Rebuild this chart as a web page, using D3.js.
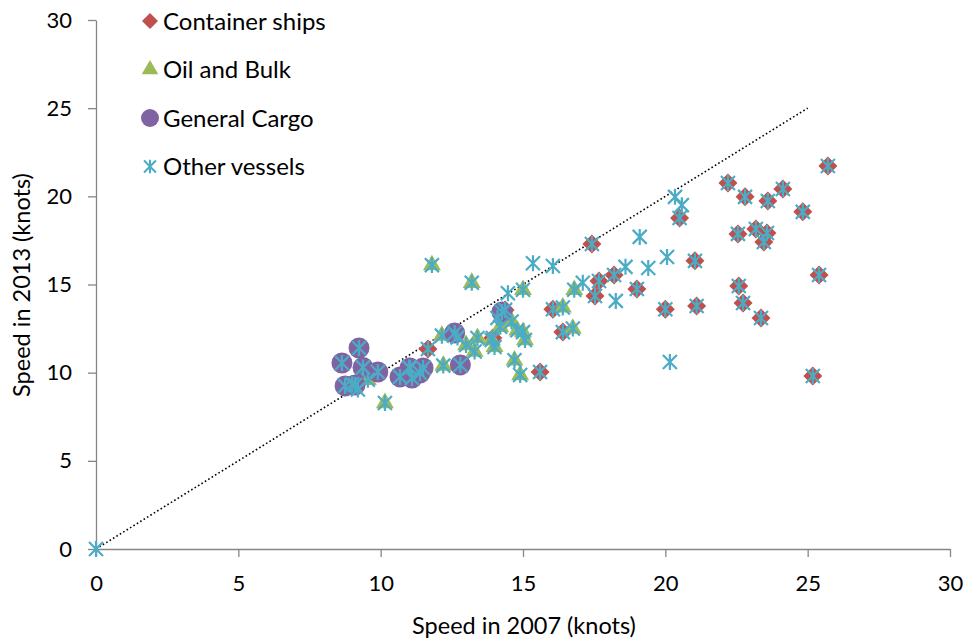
<!DOCTYPE html>
<html>
<head>
<meta charset="utf-8">
<script src="https://cdn.jsdelivr.net/npm/d3@7"></script>
<style>
  body { margin: 0; background: #fff; }
  text { font-family: Lato, "Open Sans", sans-serif; fill: #000; }
</style>
</head>
<body>
<svg></svg>
<script>
const size = {w: 971, h: 640};
const svg = d3.select('svg').attr('width', size.w).attr('height', size.h);

// speed in 2007 / 2013 (knots)
const containerX = [11.66, 14.37, 13.94, 15.6, 16.05, 16.4, 17.42, 20.5, 21.04, 21.1, 20.0, 19.0, 17.67, 18.2, 17.53,
    22.2, 22.8, 23.6, 24.13, 25.71, 24.83, 22.55, 23.18, 23.57, 23.46, 25.4, 22.58, 22.73, 23.36, 25.18];
const containerY = [11.34, 13.56, 11.97, 10.04, 13.6, 12.3, 17.3, 18.77, 16.34, 13.78, 13.6, 14.75, 15.2, 15.54, 14.35,
    20.76, 19.97, 19.74, 20.42, 21.72, 19.12, 17.87, 18.15, 17.92, 17.41, 15.54, 14.92, 13.95, 13.1, 9.81];

const oilX = [11.8, 13.2, 15.0, 10.15, 12.2, 12.15, 13.0, 13.3, 13.4, 14.0, 13.9, 14.2, 14.6, 14.8, 15.0, 15.07, 14.7, 14.9,
    9.55, 11.0, 16.8, 16.75, 16.4];
const oilY = [16.1, 15.1, 14.7, 8.28, 10.4, 12.1, 11.57, 11.2, 11.97, 11.46, 11.85, 12.6, 12.9, 12.4, 12.3, 11.85, 10.7, 9.87,
    9.6, 10.3, 14.7, 12.5, 13.7];

const cargoX = [8.64, 9.24, 8.75, 9.1, 9.38, 9.9, 10.68, 11.1, 11.03, 11.49, 11.38, 12.6, 12.8, 14.26];
const cargoY = [10.55, 11.4, 9.25, 9.3, 10.3, 10.04, 9.76, 9.7, 10.27, 10.27, 9.98, 12.25, 10.44, 13.44];

// vessels only in the "other" group
const otherX = [0, 15.35, 16.05, 14.47, 19.1, 20.06, 19.4, 18.6, 18.26, 17.1, 20.16, 20.34, 20.58, 9.2, 9.0, 12.7, 14.1];
const otherY = [0, 16.2, 16.05, 14.5, 17.7, 16.56, 15.94, 16.0, 14.07, 15.1, 10.6, 19.97, 19.5, 9.05, 9.35, 12.0, 13.1];

const ticks = [0, 5, 10, 15, 20, 25, 30];
const refLine = [0, 25];

const x = d3.scaleLinear().domain([0, 30]).range([96, 950]);
const y = d3.scaleLinear().domain([0, 30]).range([549, 20]);

const colors = {container: '#C0504D', oil: '#9BBB59', cargo: '#8064A2', other: '#4BACC6'};

// axes
const xAxis = svg.append('g')
    .attr('transform', 'translate(0,' + y(0) + ')')
    .call(d3.axisBottom(x).tickValues(ticks).tickSize(8).tickSizeOuter(0).tickPadding(18));
const yAxis = svg.append('g')
    .attr('transform', 'translate(' + x(0) + ',0)')
    .call(d3.axisLeft(y).tickValues(ticks).tickSize(8).tickSizeOuter(0).tickPadding(16));
[xAxis, yAxis].forEach(function (a) {
    a.select('.domain').attr('stroke', '#868686').attr('stroke-width', 1.3);
    a.selectAll('.tick line').attr('stroke', '#868686').attr('stroke-width', 1.3);
    a.selectAll('.tick text').style('font-size', '22px').style('font-family', 'Lato, sans-serif').attr('fill', '#000');
});

// 1:1 reference line
svg.append('line')
    .attr('x1', x(refLine[0])).attr('y1', y(refLine[0]))
    .attr('x2', x(refLine[1])).attr('y2', y(refLine[1]))
    .attr('stroke', '#000').attr('stroke-width', 1.6).attr('stroke-dasharray', '1.6,2.4');

const pts = (xs, ys) => xs.map((v, i) => [v, ys[i]]);

const diamond = 'M0,-9.5L9.5,0L0,9.5L-9.5,0Z';
const triangle = d3.symbol().type(d3.symbolTriangle).size(140)();
const asterisk = 'M0,-8V8M-7,-7L7,7M-7,7L7,-7';

function drawSymbols (data, path, fill) {
    svg.append('g').selectAll('path')
        .data(data)
        .enter()
        .append('path')
        .attr('transform', d => 'translate(' + x(d[0]) + ',' + y(d[1]) + ')')
        .attr('d', path)
        .attr('fill', fill);
}

drawSymbols(pts(containerX, containerY), diamond, colors.container);
drawSymbols(pts(oilX, oilY), triangle, colors.oil);

svg.append('g').selectAll('circle')
    .data(pts(cargoX, cargoY))
    .enter()
    .append('circle')
    .attr('cx', d => x(d[0]))
    .attr('cy', d => y(d[1]))
    .attr('r', 10.5)
    .attr('fill', colors.cargo);

// every vessel gets the "other" star on top
const allVessels = pts(containerX, containerY)
    .concat(pts(oilX, oilY), pts(cargoX, cargoY), pts(otherX, otherY));
svg.append('g').selectAll('path')
    .data(allVessels)
    .enter()
    .append('path')
    .attr('transform', d => 'translate(' + x(d[0]) + ',' + y(d[1]) + ')')
    .attr('d', asterisk)
    .attr('fill', 'none')
    .attr('stroke', colors.other)
    .attr('stroke-width', 2.2);

// legend
const legendItems = ['Container ships', 'Oil and Bulk', 'General Cargo', 'Other vessels'];
const legend = svg.append('g').attr('transform', 'translate(150,21)');
legendItems.forEach(function (name, i) {
    let g = legend.append('g').attr('transform', 'translate(0,' + (i * 48.5) + ')');
    if (i === 0) g.append('path').attr('d', 'M0,-8L8,0L0,8L-8,0Z').attr('fill', colors.container);
    if (i === 1) g.append('path').attr('d', d3.symbol().type(d3.symbolTriangle).size(120)()).attr('fill', colors.oil);
    if (i === 2) g.append('circle').attr('r', 9).attr('fill', colors.cargo);
    if (i === 3) g.append('path').attr('d', asterisk).attr('transform', 'scale(0.85)')
        .attr('fill', 'none').attr('stroke', colors.other).attr('stroke-width', 2.4);
    g.append('text')
        .attr('x', 13)
        .attr('dy', '0.36em')
        .style('font-size', '24px')
        .text(name);
});

// axis titles
svg.append('text')
    .attr('x', 524).attr('y', 634)
    .attr('text-anchor', 'middle')
    .style('font-size', '23.5px')
    .text('Speed in 2007 (knots)');
svg.append('text')
    .attr('transform', 'translate(30,285) rotate(-90)')
    .attr('text-anchor', 'middle')
    .style('font-size', '23.5px')
    .text('Speed in 2013 (knots)');
</script>
</body>
</html>
